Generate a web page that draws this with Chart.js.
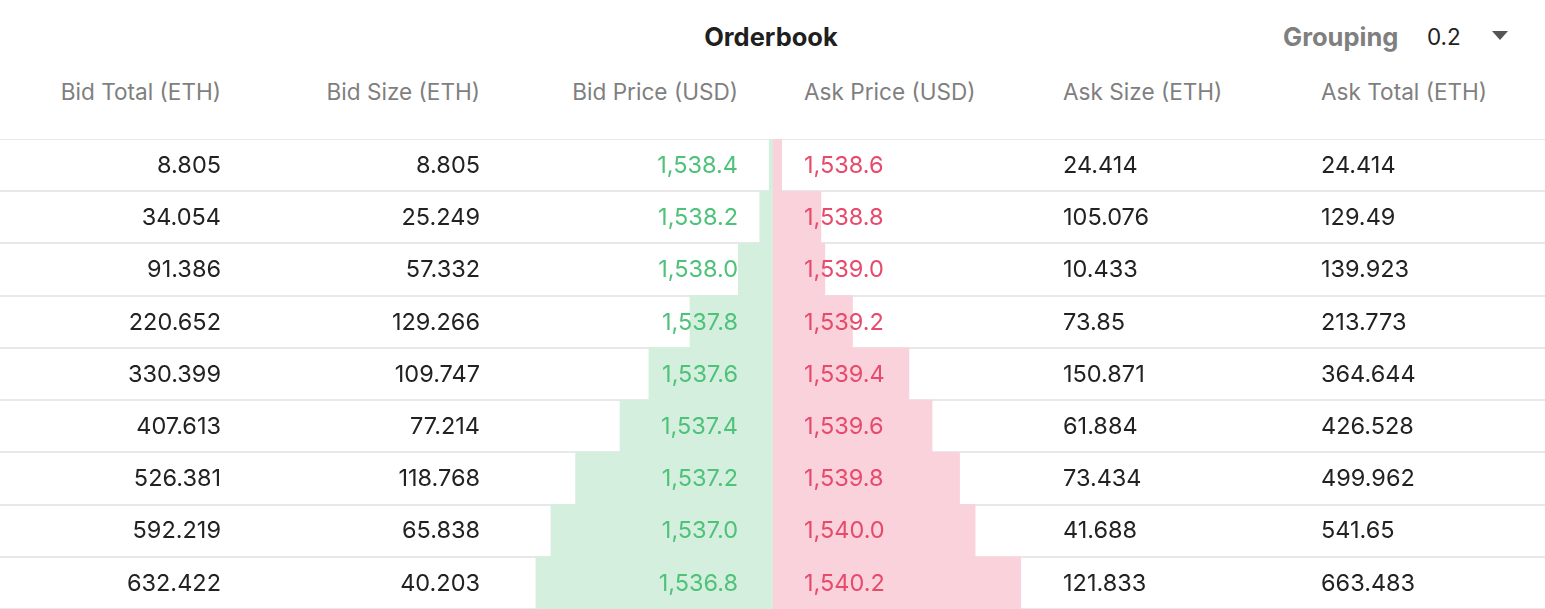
<!DOCTYPE html>
<html>
<head>
<meta charset="utf-8">
<script src="https://cdn.jsdelivr.net/npm/chart.js@4"></script>
<style>
  body { margin: 0; width: 1545px; height: 609px; background: #fff; font-family: Inter, "Noto Sans", sans-serif; overflow: hidden; position: relative; }
  .title { position: absolute; top: 21px; left: 0; width: 1542px; text-align: center; font-size: 25.5px; font-weight: 700; color: #1f1f1f; }
  .grp { position: absolute; top: 21px; left: 1283px; font-size: 25.5px; font-weight: 700; color: #7f7f7f; }
  .grpval { position: absolute; top: 23px; left: 1427px; font-size: 22.5px; color: #222; }
  .tri { position: absolute; top: 31px; left: 1492px; width: 0; height: 0; border-left: 8px solid transparent; border-right: 8px solid transparent; border-top: 9px solid #555; }
  .hdr, .row { position: absolute; left: 0; width: 1545px; }
  .hdr { top: 78px; font-size: 22.6px; color: #7f7f7f; }
  .c { position: absolute; white-space: nowrap; }
  .c0 { right: 1324px; } .c1 { right: 1065px; } .c2 { right: 807px; }
  .c3 { left: 804px; } .c4 { left: 1063px; } .c5 { left: 1321px; }
  .row { font-size: 23.5px; color: #222; height: 52.2px; line-height: 52.2px; }
  .bid { color: #4fc27a; } .ask { color: #e84a6c; }
  #wrap { position: absolute; left: 0; top: 139px; width: 1545px; height: 470px; }
  #rows { position: absolute; left: 0; top: 139px; }
</style>
</head>
<body>
<div class="title">Orderbook</div>
<div class="grp">Grouping</div>
<div class="grpval">0.2</div>
<div class="tri"></div>
<div class="hdr" id="hdr"></div>
<div id="wrap"><canvas id="chart"></canvas></div>
<div id="rows"></div>
<script>
const headers = ['Bid Total (ETH)', 'Bid Size (ETH)', 'Bid Price (USD)', 'Ask Price (USD)', 'Ask Size (ETH)', 'Ask Total (ETH)'];
const bidTotal = [8.805, 34.054, 91.386, 220.652, 330.399, 407.613, 526.381, 592.219, 632.422];
const bidSize = [8.805, 25.249, 57.332, 129.266, 109.747, 77.214, 118.768, 65.838, 40.203];
const bidPrice = ['1,538.4', '1,538.2', '1,538.0', '1,537.8', '1,537.6', '1,537.4', '1,537.2', '1,537.0', '1,536.8'];
const askPrice = ['1,538.6', '1,538.8', '1,539.0', '1,539.2', '1,539.4', '1,539.6', '1,539.8', '1,540.0', '1,540.2'];
const askSize = [24.414, 105.076, 10.433, 73.85, 150.871, 61.884, 73.434, 41.688, 121.833];
const askTotal = [24.414, 129.49, 139.923, 213.773, 364.644, 426.528, 499.962, 541.65, 663.483];
const depthMax = 2065;

document.getElementById('hdr').innerHTML = headers.map((h, i) => `<span class="c c${i}">${h}</span>`).join('');

const rowsEl = document.getElementById('rows');
bidTotal.forEach((bt, i) => {
  const cells = [bt, bidSize[i], bidPrice[i], askPrice[i], askSize[i], askTotal[i]];
  const cls = ['', '', 'bid', 'ask', '', ''];
  const r = document.createElement('div');
  r.className = 'row';
  r.style.top = (i * 52.2) + 'px';
  r.innerHTML = cells.map((v, j) => `<span class="c c${j} ${cls[j]}">${v}</span>`).join('');
  rowsEl.appendChild(r);
});

const labels = bidPrice.map((p, i) => i);
const ctx = document.getElementById('chart').getContext('2d');
new Chart(ctx, {
  type: 'bar',
  data: {
    labels: labels,
    datasets: [
      { data: bidTotal.map(v => [-v, 0]), backgroundColor: '#d5efdf', borderWidth: 0 },
      { data: askTotal.map(v => [0, v]), backgroundColor: '#f9d2db', borderWidth: 0 }
    ]
  },
  options: {
    indexAxis: 'y',
    responsive: true,
    maintainAspectRatio: false,
    animation: false,
    layout: { padding: 0 },
    datasets: { bar: { grouped: false, categoryPercentage: 1, barPercentage: 1 } },
    plugins: { legend: { display: false }, tooltip: { enabled: false } },
    scales: {
      x: { display: false, min: -depthMax, max: depthMax },
      y: {
        display: true,
        ticks: { display: false },
        border: { display: false },
        grid: { offset: true, color: '#e8e8e8', lineWidth: 2, drawTicks: false }
      }
    }
  }
});
</script>
</body>
</html>
